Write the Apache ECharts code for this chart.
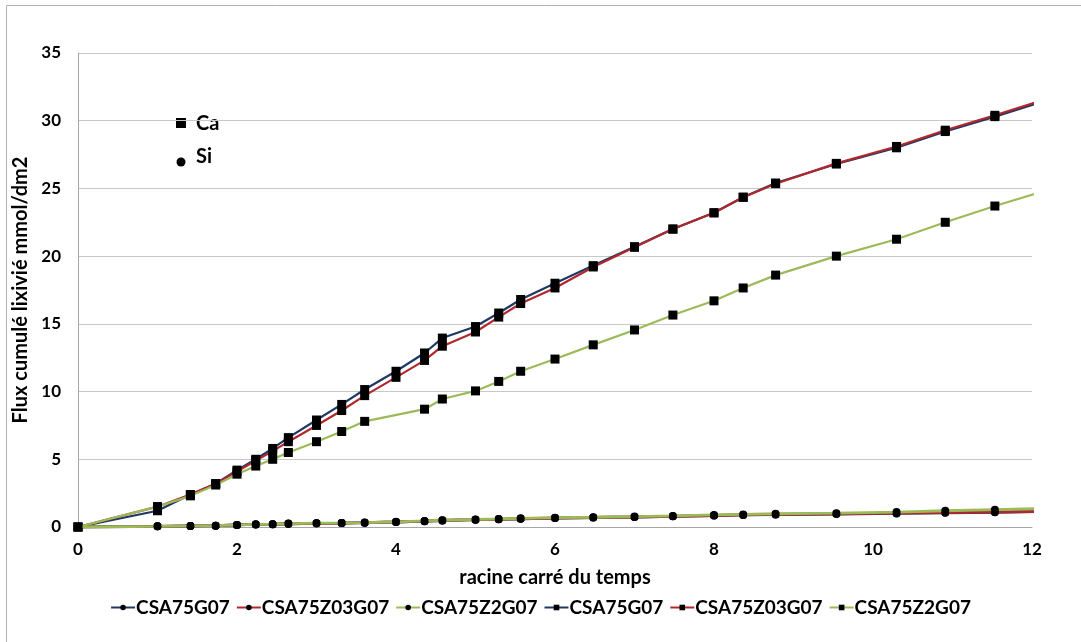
<!DOCTYPE html>
<html>
<head>
<meta charset="utf-8">
<script src="https://cdn.jsdelivr.net/npm/echarts@6/dist/echarts.min.js"></script>
<style>
html,body{margin:0;padding:0;background:#fff;}
#c{width:1081px;height:642px;}
</style>
</head>
<body>
<div id="c"></div>
<script>
// sqrt(time) abscissae
const xs = [0, 1, 1.414, 1.732, 2, 2.236, 2.449, 2.646, 3, 3.317, 3.606, 4, 4.359, 4.583, 5, 5.292, 5.568, 6, 6.481, 7, 7.483, 8, 8.367, 8.775, 9.539, 10.296, 10.909, 11.533, 12.124];

// Si cumulative flux
const siG07    = [0, 0.05, 0.08, 0.1, 0.15, 0.19, 0.2, 0.24, 0.27, 0.29, 0.32, 0.37, 0.43, 0.48, 0.54, 0.57, 0.61, 0.66, 0.7, 0.74, 0.79, 0.85, 0.89, 0.92, 0.96, 1.0, 1.05, 1.09, 1.14];
const siZ03G07 = [0, 0.05, 0.08, 0.1, 0.15, 0.19, 0.2, 0.24, 0.27, 0.29, 0.32, 0.37, 0.43, 0.48, 0.54, 0.57, 0.61, 0.66, 0.7, 0.74, 0.79, 0.85, 0.89, 0.93, 0.97, 1.02, 1.07, 1.1, 1.15];
const siZ2G07  = [0, 0.05, 0.08, 0.1, 0.15, 0.2, 0.2, 0.25, 0.28, 0.3, 0.33, 0.38, 0.45, 0.5, 0.56, 0.59, 0.64, 0.69, 0.72, 0.77, 0.82, 0.89, 0.93, 0.98, 1.02, 1.1, 1.2, 1.28, 1.36];

// Ca cumulative flux
const caG07    = [0, 1.2, 2.4, 3.2, 4.2, 5.0, 5.8, 6.6, 7.9, 9.05, 10.15, 11.5, 12.85, 13.95, 14.8, 15.8, 16.8, 18.0, 19.3, 20.7, 22.0, 23.2, 24.35, 25.4, 26.8, 28.0, 29.2, 30.3, 31.4];
const caZ03G07 = [0, 1.5, 2.4, 3.2, 4.1, 4.9, 5.6, 6.3, 7.5, 8.6, 9.7, 11.05, 12.3, 13.35, 14.4, 15.5, 16.5, 17.65, 19.2, 20.65, 22.0, 23.2, 24.35, 25.35, 26.85, 28.1, 29.3, 30.4, 31.5];
const caZ2G07  = [0, 1.5, 2.3, 3.1, 3.9, 4.5, 5.0, 5.5, 6.3, 7.05, 7.8, null, 8.7, 9.45, 10.05, 10.75, 11.5, 12.4, 13.45, 14.55, 15.65, 16.7, 17.65, 18.6, 20.0, 21.25, 22.5, 23.7, 24.75];

const names = ['CSA75G07', 'CSA75Z03G07', 'CSA75Z2G07'];
const xTicks = [0, 2, 4, 6, 8, 10, 12];
const yTicks = [0, 5, 10, 15, 20, 25, 30, 35];

const colors = ['#1F3864', '#B0282E', '#9BBB59'];
const FONT = 'Lato';

function pairs(vals) {
  const out = [];
  vals.forEach((v, i) => { if (v !== null) out.push([xs[i], v]); });
  return out;
}

const siSets = [siG07, siZ03G07, siZ2G07];
const caSets = [caG07, caZ03G07, caZ2G07];
const series = [];
siSets.forEach((s, i) => series.push({
  name: names[i], type: 'line', data: pairs(s), symbol: 'circle', symbolSize: 8,
  lineStyle: {color: colors[i], width: 2.8}, itemStyle: {color: '#000', borderWidth: 0},
  color: colors[i], z: 2 + i
}));
caSets.forEach((s, i) => series.push({
  name: names[i] + '\u200b', type: 'line', data: pairs(s), symbol: 'rect', symbolSize: 9,
  lineStyle: {color: colors[i], width: 2.2}, itemStyle: {color: '#000', borderWidth: 0},
  color: colors[i], z: 2 + i
}));

const chart = echarts.init(document.getElementById('c'));
chart.setOption({
  animation: false,
  backgroundColor: '#fff',
  textStyle: {fontFamily: FONT},
  grid: {left: 78, right: 49, top: 53, bottom: 115},
  xAxis: {
    type: 'value', min: 0, max: 12, interval: 2,
    name: 'racine carré du temps', nameLocation: 'middle', nameGap: 41,
    nameTextStyle: {fontFamily: FONT, fontWeight: 'bold', fontSize: 20, color: '#000'},
    axisLine: {show: true, onZero: true, lineStyle: {color: '#A6A6A6', width: 1}},
    axisTick: {show: false},
    splitLine: {show: false},
    axisLabel: {fontFamily: FONT, fontWeight: 'bold', fontSize: 17, color: '#000', margin: 14}
  },
  yAxis: {
    type: 'value', min: 0, max: 35, interval: 5,
    name: 'Flux cumulé lixivié mmol/dm2', nameLocation: 'middle', nameGap: 47,
    nameTextStyle: {fontFamily: FONT, fontWeight: 'bold', fontSize: 20, color: '#000'},
    axisLine: {show: true, lineStyle: {color: '#A6A6A6', width: 1}},
    axisTick: {show: false},
    splitLine: {show: true, lineStyle: {color: '#C8C8C8', width: 1}},
    axisLabel: {fontFamily: FONT, fontWeight: 'bold', fontSize: 17, color: '#000', margin: 17}
  },
  legend: {
    bottom: 20, left: 'center', itemGap: 6, itemWidth: 24, itemHeight: 7,
    textStyle: {fontFamily: FONT, fontWeight: 'bold', fontSize: 19, color: '#000', padding: [0, 0, 0, -4]}
  },
  graphic: [
    {type: 'rect', shape: {x: 6.5, y: 5.5, width: 1200, height: 800}, style: {fill: 'none', stroke: '#B0B0B0', lineWidth: 1}, silent: true},
    {type: 'rect', shape: {x: 176, y: 118, width: 10, height: 10}, style: {fill: '#000'}},
    {type: 'text', x: 196, y: 124, style: {text: 'Ca', font: 'bold 20px ' + FONT, fill: '#000', verticalAlign: 'middle'}},
    {type: 'circle', shape: {cx: 181, cy: 162, r: 4.5}, style: {fill: '#000'}},
    {type: 'text', x: 196, y: 157, style: {text: 'Si', font: 'bold 20px ' + FONT, fill: '#000', verticalAlign: 'middle'}}
  ],
  series: series
});
</script>
</body>
</html>
